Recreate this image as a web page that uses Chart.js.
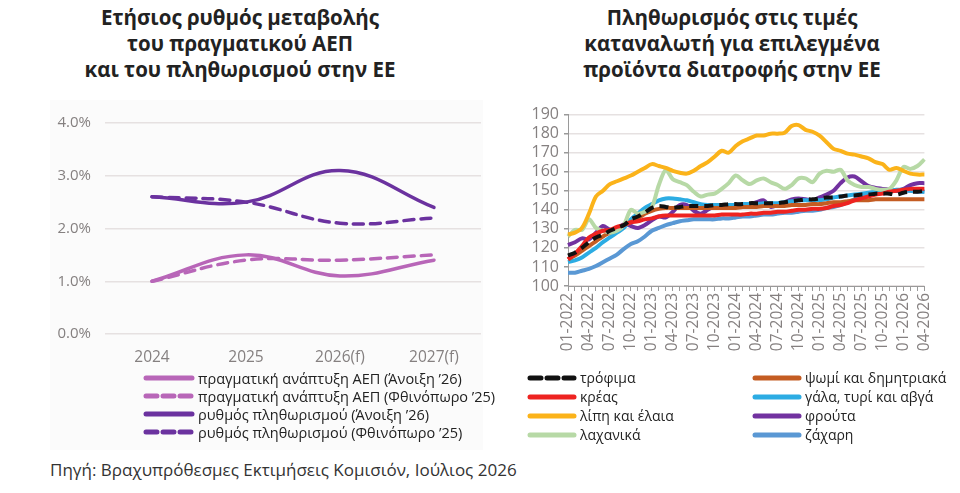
<!DOCTYPE html>
<html>
<head>
<meta charset="utf-8">
<script src="https://cdn.jsdelivr.net/npm/chart.js@4"></script>
<style>
  body { margin: 0; background: #fff; font-family: "Open Sans", sans-serif; }
  #page { position: relative; width: 960px; height: 493px; overflow: hidden; }
  .title { position: absolute; top: 4px; text-align: center; font-weight: 700; font-size: 20.5px; line-height: 26px; color: #222; }
  #bgLeft { position: absolute; left: 50px; top: 100px; width: 433px; height: 350px; background: #fbfbfb; }
  .box { position: absolute; }
  .legend { position: absolute; font-size: 14.5px; color: #222; }
  .legend .row { display: flex; align-items: center; white-space: nowrap; }
  .legend svg { flex: none; margin-right: 3px; }
  #source { position: absolute; left: 50px; top: 458px; font-size: 17px; color: #333; }
</style>
</head>
<body>
<div id="page">
  <div id="bgLeft"></div>
  <div class="title" style="left:40px;width:400px;">Ετήσιος ρυθμός μεταβολής<br>του πραγματικού ΑΕΠ<br>και του πληθωρισμού στην ΕΕ</div>
  <div class="title" style="left:530px;width:404px;">Πληθωρισμός στις τιμές<br>καταναλωτή για επιλεγμένα<br>προϊόντα διατροφής στην ΕΕ</div>
  <div class="box" style="left:50px;top:100px;width:433px;height:270px;"><canvas id="leftChart"></canvas></div>
  <div class="box" style="left:505px;top:100px;width:440px;height:272px;"><canvas id="rightChart"></canvas></div>
  <div class="legend" id="leftLegend" style="left:143px;top:369px;"></div>
  <div class="legend" id="rightLegendA" style="left:527px;top:368px;font-size:14px;"></div>
  <div class="legend" id="rightLegendB" style="left:752px;top:368px;font-size:14px;"></div>
  <div id="source">Πηγή: Βραχυπρόθεσμες Εκτιμήσεις Κομισιόν, Ιούλιος 2026</div>
</div>
<script>
// left chart: GDP growth and inflation forecasts (%)
const years = ['2024', '2025', '2026(f)', '2027(f)'];
const gdpSpring26 = [1.0, 1.5, 1.1, 1.4];
const gdpAutumn25 = [1.0, 1.4, 1.4, 1.5];
const inflSpring26 = [2.6, 2.5, 3.1, 2.4];
const inflAutumn25 = [2.6, 2.5, 2.1, 2.2];

// right chart: food price index, monthly 01-2022 .. 04-2026
const months = [];
for (let y = 2022; y <= 2026; y++) {
  for (let m = 1; m <= 12; m++) {
    if (y === 2026 && m > 4) break;
    months.push(String(m).padStart(2, '0') + '-' + y);
  }
}
const food   = [116,117.5,120,123,125.5,127,129,130.5,132,135,136.5,138.5,141,142,141.5,141,141.5,142,142,142,142,142.5,142.5,143,143,143,143.5,143.5,143.5,143.5,143.5,144,144.5,145,145.5,145.5,146,146.5,146.5,147,147.5,147.5,148,148,148.5,148.5,148.5,148,149,149.5,149.5,150];
const meat   = [114,117,121,125.5,127.5,129,129.5,131,132,133.5,134,135,135.5,136.5,137,137,137,137,137,137,137,137,137.5,137.5,137.5,137.5,138,138,138.5,138.5,139,139,139.5,140,140,140.5,140.5,141,142,142.5,143.5,145,146,147,148,148.5,149.5,150,150.5,151,151,151];
const fats   = [127,128,130.5,138,147,150,153.5,155,156.5,158,160,162,164,163,162,160.5,159.5,159,160.5,163,165,168,171,170,173.5,176,177.5,179,179,180,180,180.5,184,184.5,182,181,179,175.5,172,171,169.5,169,168,167,165,164,161,162,160.5,159,158.5,158.5];
const veg    = [126,129.5,129.5,135,130.5,129,128,129,132,140,138,139,141.5,153,161,156,154.5,153,149.5,147,148,148.5,151,154,158,155.5,153.5,155.5,156.5,154.5,153,151,153,156.5,156.5,154.5,159,160.5,160,161,155.5,153,152,152,151,150.5,151,155.5,162.5,161.5,163,166.5];
const bread  = [114,116,118.5,121,123.5,126,128,130,132,133.5,135.5,138,139.5,140.5,141,141,141,141,141,141,141,141,141,141,141,141.5,141.5,141.5,142,142,142,142,142.5,142.5,142.5,143,143,143.5,144,144,144.5,145,145,145,145.5,145.5,145.5,145.5,145.5,145.5,145.5,145.5];
const dairy  = [112.5,113.5,115,117.5,120,123,125.5,128,130.5,135,138,141,143,145,146,146,145.5,145,144,143,142.5,142.5,142.5,142.5,142.5,143,143,143,143.5,143.5,143.5,144,144.5,145,145,145,145,145.5,146.5,147,147.5,148,148.5,149,149.5,150,150,150.5,150.5,150,150,149.5];
const fruit  = [121.5,123,125,124.5,128,131.5,129.5,130,132.5,131.5,130.5,132,134.5,136.5,136,139,142.5,142.5,139.5,138,140,142,142.5,142.5,142.5,142.5,143,144,145,141.5,142.5,144,145.5,146,145.5,145,146.5,148,150,154,157,157.5,155,152.5,151.5,151,150.5,150,151,153,154,154];
const sugar  = [107,107,108,109,110.5,112.5,114.5,116.5,119.5,122,123.5,126,129,130.5,132,133,134,134.5,135,135,135,135,135.5,135.5,136,136.5,136.5,137,137.5,137.5,138,138.5,138.5,139,139.5,139.5,140,141,141.5,142.5,144,145.5,147,148,149,149.5,150,150,150,150,149.5,149.5];

const tickColor = '#858080';
const gridColor = '#e6e1e1';
const FONT = '"Open Sans", sans-serif';

function swatch(color, dashed, w) {
  const dash = dashed ? ' stroke-dasharray="11 6"' : '';
  return '<svg width="' + w + '" height="8"><line x1="3" y1="4" x2="' + (w - 3) + '" y2="4" stroke="' +
    color + '" stroke-width="5" stroke-linecap="round"' + dash + '/></svg>';
}

function buildLegend(id, items, w, rowH) {
  const el = document.getElementById(id);
  el.innerHTML = items.map(it =>
    '<div class="row" style="height:' + rowH + 'px">' + swatch(it.color, it.dashed, w) + '<span>' + it.label + '</span></div>'
  ).join('');
}

// ----- left chart -----
const leftSeries = [
  { label: 'πραγματική ανάπτυξη ΑΕΠ (Άνοιξη \u201926)', data: gdpSpring26, color: '#b866b8', dashed: false },
  { label: 'πραγματική ανάπτυξη ΑΕΠ (Φθινόπωρο \u201925)', data: gdpAutumn25, color: '#b866b8', dashed: true },
  { label: 'ρυθμός πληθωρισμού (Άνοιξη \u201926)', data: inflSpring26, color: '#6b329f', dashed: false },
  { label: 'ρυθμός πληθωρισμού (Φθινόπωρο \u201925)', data: inflAutumn25, color: '#6b329f', dashed: true }
];

new Chart(document.getElementById('leftChart'), {
  type: 'line',
  data: {
    labels: years,
    datasets: leftSeries.map(s => ({
      label: s.label,
      data: s.data,
      borderColor: s.color,
      borderWidth: 3.5,
      borderDash: s.dashed ? [10, 7] : [],
      borderCapStyle: 'round',
      pointRadius: 0,
      tension: 0.4,
      fill: false
    }))
  },
  options: {
    responsive: true,
    maintainAspectRatio: false,
    animation: false,
    layout: { padding: { top: 19, right: 2, left: 0, bottom: 0 } },
    plugins: { legend: { display: false }, tooltip: { enabled: false } },
    scales: {
      x: {
        offset: true,
        grid: { display: false },
        border: { display: false },
        ticks: { color: tickColor, font: { family: FONT, size: 15.5 }, padding: 6 },
        afterFit: s => { s.height = 36; }
      },
      y: {
        min: 0,
        max: 4,
        ticks: { stepSize: 1, color: tickColor, font: { family: FONT, size: 15 }, padding: 14,
          callback: v => v.toFixed(1) + '%' },
        grid: { color: gridColor, lineWidth: 1.5, drawTicks: false },
        border: { display: false },
        afterFit: s => { s.width = 55; }
      }
    }
  }
});

buildLegend('leftLegend', leftSeries, 52, 18);

// ----- right chart -----
const rightSeries = [
  { label: 'τρόφιμα', data: food, color: '#111111', dashed: true },
  { label: 'κρέας', data: meat, color: '#ee2320', dashed: false },
  { label: 'λίπη και έλαια', data: fats, color: '#fbb31a', dashed: false },
  { label: 'λαχανικά', data: veg, color: '#b7d9a6', dashed: false },
  { label: 'ψωμί και δημητριακά', data: bread, color: '#c45c22', dashed: false },
  { label: 'γάλα, τυρί και αβγά', data: dairy, color: '#2cace3', dashed: false },
  { label: 'φρούτα', data: fruit, color: '#7232a0', dashed: false },
  { label: 'ζάχαρη', data: sugar, color: '#5a98d4', dashed: false }
];

new Chart(document.getElementById('rightChart'), {
  type: 'line',
  data: {
    labels: months,
    datasets: rightSeries.map(s => ({
      label: s.label,
      data: s.data,
      borderColor: s.color,
      borderWidth: 4,
      borderDash: s.dashed ? [9, 6] : [],
      pointRadius: 0,
      tension: 0.3,
      fill: false
    }))
  },
  options: {
    responsive: true,
    maintainAspectRatio: false,
    animation: false,
    layout: { padding: { top: 12, right: 20, left: 0, bottom: 0 } },
    plugins: { legend: { display: false }, tooltip: { enabled: false } },
    scales: {
      x: {
        offset: false,
        grid: { drawOnChartArea: false, drawTicks: true, tickLength: 5, color: '#9a9a9a' },
        border: { display: true, color: '#9a9a9a' },
        ticks: {
          autoSkip: false, minRotation: 90, maxRotation: 90,
          color: tickColor, font: { family: FONT, size: 15.5 }, padding: 2,
          callback: function (v, i) { return i % 3 === 0 ? this.getLabelForValue(v) : ''; }
        },
        afterFit: s => { s.height = 86; }
      },
      y: {
        min: 100,
        max: 190,
        ticks: { stepSize: 10, autoSkip: false, color: tickColor, font: { family: FONT, size: 16 }, padding: 5 },
        grid: { color: gridColor, lineWidth: 1.5, tickLength: 4, tickColor: '#9a9a9a' },
        border: { display: true, color: '#9a9a9a' },
        afterFit: s => { s.width = 63; }
      }
    }
  }
});

buildLegend('rightLegendA', rightSeries.slice(0, 4), 50, 19);
buildLegend('rightLegendB', rightSeries.slice(4), 50, 19);
</script>
</body>
</html>
